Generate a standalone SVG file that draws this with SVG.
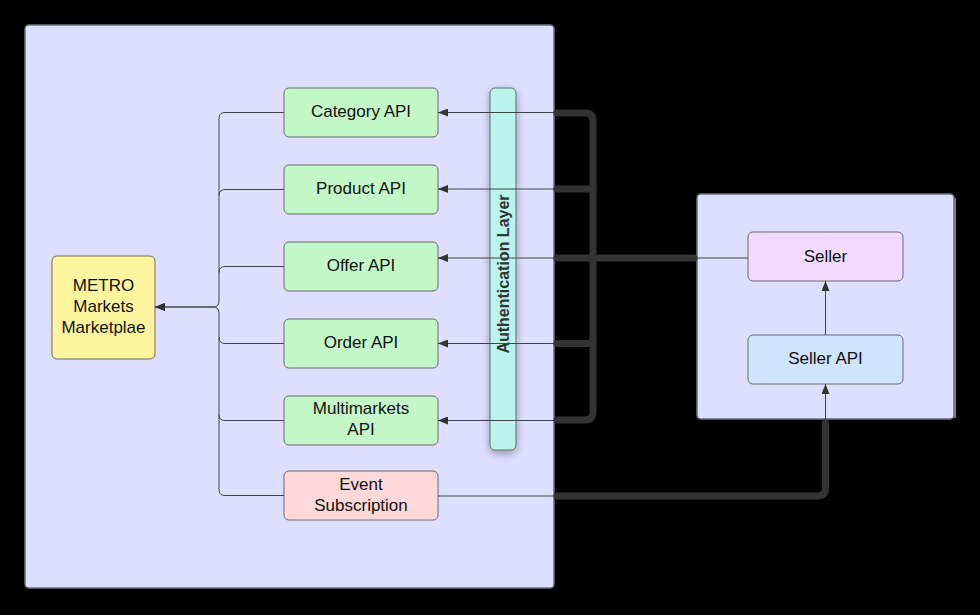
<svg xmlns="http://www.w3.org/2000/svg" width="980" height="615" viewBox="0 0 980 615">
<defs>
<marker id="arr" viewBox="0 0 10 8" refX="10" refY="4" markerWidth="10" markerHeight="8" markerUnits="userSpaceOnUse" orient="auto">
<path d="M0,0 L10,4 L0,8 Z" fill="#333"/>
</marker>
<filter id="sh" x="-100%" y="-10%" width="300%" height="120%">
<feGaussianBlur in="SourceAlpha" stdDeviation="4"/>
<feOffset dx="0" dy="3"/>
<feComponentTransfer><feFuncA type="linear" slope="0.35"/></feComponentTransfer>
<feMerge><feMergeNode/><feMergeNode in="SourceGraphic"/></feMerge>
</filter>
</defs>
<style>
.cont{fill:#dedeff;stroke:#6e6e80;stroke-width:1.5}
.box{stroke:#6a6a6a;stroke-width:1}
.api{fill:#c3f7c8}
.t{font-family:"Liberation Sans",Arial,sans-serif;font-size:17px;fill:#111;text-anchor:middle}
.thin{fill:none;stroke:#444;stroke-width:1}
.thick{fill:none;stroke:#333;stroke-width:7;stroke-linecap:round;stroke-linejoin:round}
</style>
<rect x="0" y="0" width="980" height="615" fill="#000"/>
<g id="main-container">
<rect class="cont" x="25" y="25" width="529" height="563" rx="4"/>
</g>
<g id="seller-container">
<line x1="955" y1="198" x2="955" y2="418" stroke="#7a7a90" stroke-width="2"/>
<rect class="cont" x="697" y="194" width="257" height="225" rx="4"/>
</g>
<g id="metro">
<rect class="box" x="52" y="256" width="103" height="103" rx="5" fill="#fff59f"/>
<text class="t" x="103.5" y="291">METRO</text>
<text class="t" x="103.5" y="312">Markets</text>
<text class="t" x="103.5" y="333">Marketplae</text>
</g>
<g id="category-api">
<rect class="box api" x="284" y="88" width="154" height="49" rx="5"/>
<text class="t" x="361" y="117">Category API</text>
</g>
<g id="product-api">
<rect class="box api" x="284" y="165" width="154" height="49" rx="5"/>
<text class="t" x="361" y="194">Product API</text>
</g>
<g id="offer-api">
<rect class="box api" x="284" y="242" width="154" height="49" rx="5"/>
<text class="t" x="361" y="271">Offer API</text>
</g>
<g id="order-api">
<rect class="box api" x="284" y="319" width="154" height="49" rx="5"/>
<text class="t" x="361" y="348">Order API</text>
</g>
<g id="multimarkets-api">
<rect class="box api" x="284" y="396" width="154" height="49" rx="5"/>
<text class="t" x="361" y="414">Multimarkets</text>
<text class="t" x="361" y="435">API</text>
</g>
<g id="event-subscription">
<rect class="box" x="284" y="471" width="154" height="49" rx="5" fill="#ffd9d9"/>
<text class="t" x="361" y="490">Event</text>
<text class="t" x="361" y="511">Subscription</text>
</g>
<g id="auth-layer">
<rect class="box" x="490" y="88" width="26" height="362" rx="5" fill="#b8f5ed" filter="url(#sh)"/>
<text x="503" y="274" transform="rotate(-90 503 274)" text-anchor="middle" dominant-baseline="central" font-family="Liberation Sans, Arial, sans-serif" font-size="16" font-weight="bold" fill="#333">Authentication Layer</text>
</g>
<g id="seller">
<rect class="box" x="748" y="232" width="155" height="49" rx="5" fill="#f2daff"/>
<text class="t" x="825.5" y="262">Seller</text>
</g>
<g id="seller-api">
<rect class="box" x="748" y="335" width="155" height="49" rx="5" fill="#cfe4ff"/>
<text class="t" x="825.5" y="364">Seller API</text>
</g>
<g id="connectors">
<path class="thin" marker-end="url(#arr)" d="M284,112.5 H225 Q219,112.5 219,118.5 V301 Q219,307 213,307 H155"/>
<path class="thin" d="M284,189.5 H225 Q219,189.5 219,195.5"/>
<path class="thin" d="M284,266.5 H225 Q219,266.5 219,272.5"/>
<path class="thin" d="M284,343.5 H225 Q219,343.5 219,337.5"/>
<path class="thin" d="M284,420.5 H225 Q219,420.5 219,414.5"/>
<path class="thin" marker-end="url(#arr)" d="M284,495.5 H225 Q219,495.5 219,489.5 V313 Q219,307 213,307 H155"/>
<path class="thin" marker-end="url(#arr)" d="M554,112.5 H438"/>
<path class="thin" marker-end="url(#arr)" d="M554,189 H438"/>
<path class="thin" marker-end="url(#arr)" d="M554,258 H438"/>
<path class="thin" marker-end="url(#arr)" d="M554,343.5 H438"/>
<path class="thin" marker-end="url(#arr)" d="M554,420.5 H438"/>
<path class="thick" d="M557,113 H585 Q593,113 593,121 V412 Q593,420 585,420 H557"/>
<path class="thick" d="M557,189 H593"/>
<path class="thick" d="M557,343.5 H593"/>
<path class="thick" d="M557,258 H694"/>
<path class="thin" d="M697,258 H748"/>
<path class="thin" marker-end="url(#arr)" d="M825.5,335 V281"/>
<path class="thin" marker-end="url(#arr)" d="M825.5,419 V384"/>
<path class="thick" d="M825.5,423 V488 Q825.5,496 817.5,496 H557"/>
<path class="thin" d="M554,496 H438"/>
</g>
</svg>
